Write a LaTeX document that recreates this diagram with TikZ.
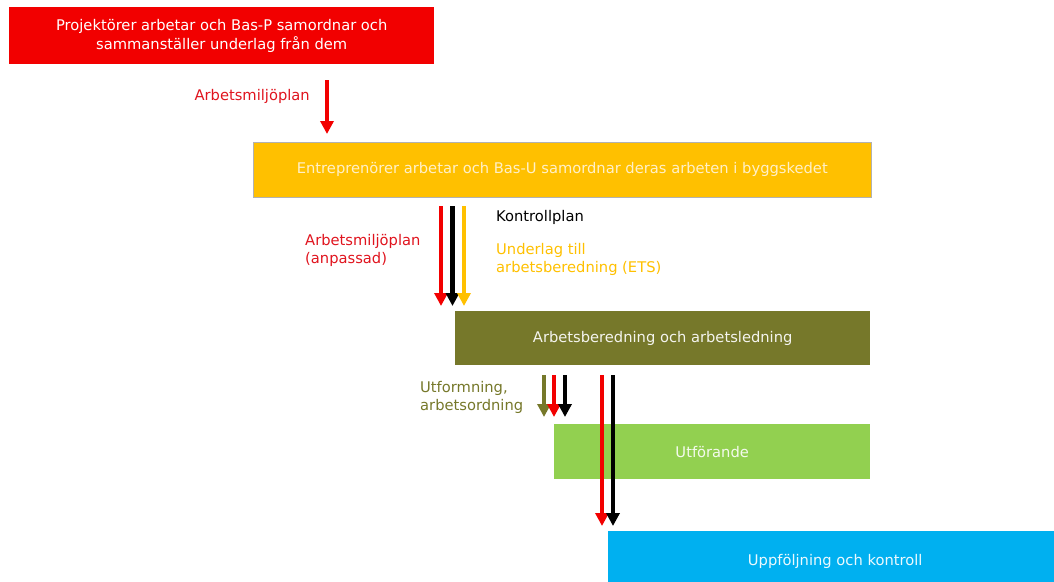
\documentclass[tikz,border=0pt]{standalone}
\usepackage{fontspec}
\setmainfont{DejaVu Sans}
\usetikzlibrary{arrows.meta}
\definecolor{cRed}{HTML}{F20000}
\definecolor{cYel}{HTML}{FFC000}
\definecolor{cYelTxt}{HTML}{FFF0C8}
\definecolor{cOli}{HTML}{76782A}
\definecolor{cGrn}{HTML}{92D050}
\definecolor{cBlu}{HTML}{00B0F0}
\definecolor{cLblRed}{HTML}{E0141E}
\tikzset{
  box/.style={rectangle, anchor=north west, inner sep=0pt, text=white, font=\fontsize{14.7}{19}\selectfont, align=center},
  arr/.style={line width=4.5pt, -{Triangle[width=13pt,length=13pt]}, shorten >=0pt},
  lbl/.style={font=\fontsize{14.7}{18}\selectfont, inner sep=0pt},
}
\begin{document}
\begin{tikzpicture}[x=1pt,y=-1pt]
\useasboundingbox (0,0) rectangle (1054,581);
% boxes
\node[box, fill=cRed, minimum width=425pt, minimum height=57pt] (proj) at (9,7)
  {Projektörer arbetar och Bas-P samordnar och\\sammanställer underlag från dem};
\node[box, fill=cYel, draw=gray!60, line width=0.6pt, minimum width=618pt, minimum height=55pt, text=cYelTxt] (entr) at (253,142)
  {Entreprenörer arbetar och Bas-U samordnar deras arbeten i byggskedet};
\node[box, fill=cOli, minimum width=415pt, minimum height=54pt, text=white!92!cOli] (ab) at (455,311)
  {Arbetsberedning och arbetsledning};
\node[box, fill=cGrn, minimum width=316pt, minimum height=55pt, text=white!90!cGrn] (utf) at (554,424)
  {Utförande};
\node[box, fill=cBlu, minimum width=454pt, minimum height=60pt, text=white!92!cBlu] (upp) at (608,531)
  {Uppföljning och kontroll};
% arrow 1
\coordinate (a1s) at (327,80);
\coordinate (a1e) at (327,134);
\draw[arr, cRed] (a1s) -- (a1e);
\node[lbl, text=cLblRed, anchor=east] (l1) at (310,96) {Arbetsmiljöplan};
% arrow set 2
\coordinate (a2rs) at (441,206); \coordinate (a2re) at (441,306);
\coordinate (a2ks) at (452.5,206); \coordinate (a2ke) at (452.5,306);
\coordinate (a2ys) at (464,206); \coordinate (a2ye) at (464,306);
\draw[arr, cRed] (a2rs) -- (a2re);
\draw[arr, black] (a2ks) -- (a2ke);
\draw[arr, cYel] (a2ys) -- (a2ye);
\node[lbl, text=cLblRed, anchor=north west, align=left] (l2) at (305,234) {Arbetsmiljöplan\\(anpassad)};
\node[lbl, text=black, anchor=west] (l3) at (496,217) {Kontrollplan};
\node[lbl, text=cYel, anchor=north west, align=left] (l4) at (496,243) {Underlag till\\arbetsberedning (ETS)};
% arrow set 3
\coordinate (a3os) at (544,375); \coordinate (a3oe) at (544,417);
\coordinate (a3rs) at (554,375); \coordinate (a3re) at (554,417);
\coordinate (a3ks) at (565,375); \coordinate (a3ke) at (565,417);
\draw[arr, cOli] (a3os) -- (a3oe);
\draw[arr, cRed] (a3rs) -- (a3re);
\draw[arr, black] (a3ks) -- (a3ke);
\node[lbl, text=cOli, anchor=north west, align=left] (l5) at (420,381) {Utformning,\\arbetsordning};
% long arrows
\coordinate (a4rs) at (602,375); \coordinate (a4re) at (602,526);
\coordinate (a4ks) at (613,375); \coordinate (a4ke) at (613,526);
\draw[arr, cRed] (a4rs) -- (a4re);
\draw[arr, black] (a4ks) -- (a4ke);
\end{tikzpicture}
\end{document}
